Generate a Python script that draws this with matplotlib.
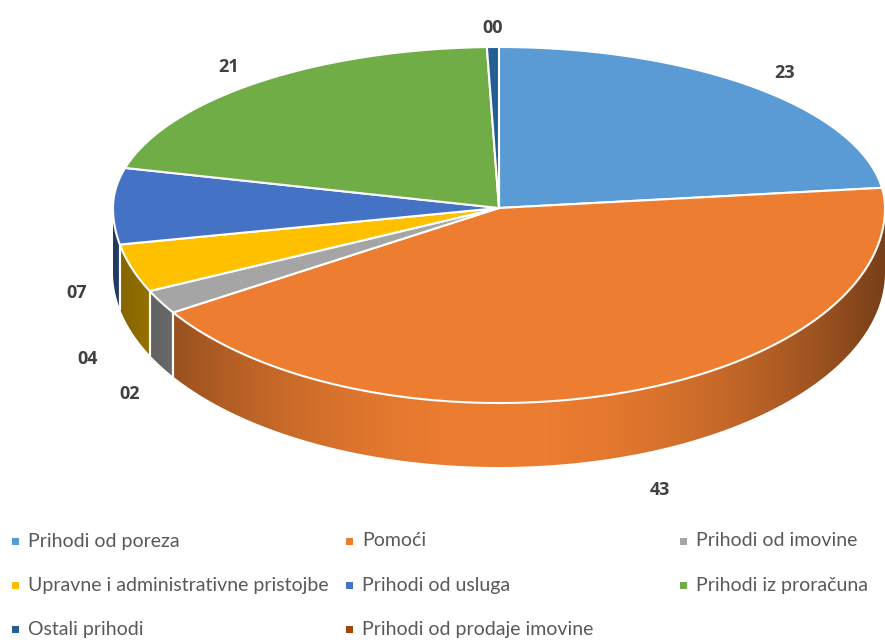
import numpy as np
import matplotlib
matplotlib.use("Agg")
import matplotlib.pyplot as plt
from matplotlib.patches import Polygon, Rectangle
from matplotlib.colors import to_rgb

# data
categories = ["Prihodi od poreza", "Pomoći", "Prihodi od imovine",
              "Upravne i administrativne pristojbe", "Prihodi od usluga",
              "Prihodi iz proračuna", "Ostali prihodi", "Prihodi od prodaje imovine"]
values = [23, 43, 2, 4, 7, 20.5, 0.5, 0]
labels = ["23", "43", "02", "04", "07", "21", "00", "00"]
colors = ["#5B9BD5", "#ED7D31", "#A5A5A5", "#FFC000", "#4472C4",
          "#70AD47", "#255E91", "#9E480E"]

# geometry (pixel space)
W, H = 885, 640
cx, cy = 499, 208
rx, ry_up, ry_dn = 386, 161, 195
depth = 64


def ell(t, k=1.0):
    # t in degrees, clockwise from 12 o'clock
    r = np.radians(t)
    c = np.cos(r)
    ry = np.where(c > 0, ry_up, ry_dn)
    return cx + k * rx * np.sin(r), cy - k * ry * c


def shade(col, x):
    u = (x - cx) / rx
    f = 1 - 0.5 * u ** 2
    return np.clip(np.outer(f, to_rgb(col)), 0, 1)


fig = plt.figure(figsize=(8.85, 6.4), dpi=100)
ax = fig.add_axes([0, 0, 1, 1])

total = sum(values)
bounds = np.concatenate([[0], np.cumsum(values) / total * 360])

# side walls (front half only), gradient clipped to wall shape
for i, col in enumerate(colors):
    a0, a1 = max(bounds[i], 90), min(bounds[i + 1], 270)
    if a1 <= a0:
        continue
    ts = np.linspace(a0, a1, 200)
    xs, ys = ell(ts)
    pts = list(zip(xs, ys)) + list(zip(xs[::-1], ys[::-1] + depth))
    wall = Polygon(pts, closed=True, facecolor="none", edgecolor="none")
    ax.add_patch(wall)
    x0, x1 = xs.min(), xs.max()
    gx = np.linspace(x0, x1, 300)
    img = shade(col, gx)[None, :, :]
    im = ax.imshow(img, extent=(x0 - 1, x1 + 1, ys.max() + depth + 2, ys.min() - 2),
                   aspect="auto", interpolation="bilinear", zorder=1)
    im.set_clip_path(wall)
    # white separator lines on the wall
    for t in (a0, a1):
        if 90 < t < 270:
            x, y = ell(t)
            ax.plot([x, x], [y, y + depth], color="white", lw=1.5, zorder=2)

# top face
for i, col in enumerate(colors):
    a0, a1 = bounds[i], bounds[i + 1]
    if a1 <= a0:
        continue
    ts = np.linspace(a0, a1, max(3, int((a1 - a0) * 2)))
    xs, ys = ell(ts)
    pts = [(cx, cy)] + list(zip(xs, ys))
    ax.add_patch(Polygon(pts, closed=True, facecolor=col, edgecolor="white",
                         lw=1.5, joinstyle="round", zorder=3))

# data labels
nudge = {1: (14, -7), 2: (10, -3), 4: (10, 91)}
for i, lab in enumerate(labels):
    if values[i] == 0:
        continue
    mid = (bounds[i] + bounds[i + 1]) / 2
    x, y = ell(mid, 1.12)
    if 90 < mid < 270:
        y += depth + 20
    dx, dy = nudge.get(i, (0, 0))
    ax.text(x + dx, y + dy, lab, ha="center", va="center", fontsize=13,
            fontweight="bold", color="#404040", family="Open Sans", zorder=4)

# legend
for i, (name, col) in enumerate(zip(categories, colors)):
    row, c = divmod(i, 3)
    lx, ly = 15 + c * 334, 541 + row * 44
    ax.add_patch(Rectangle((lx - 3.5, ly - 3.5), 7, 7, facecolor=col,
                           edgecolor="none", zorder=4))
    ax.text(lx + 13, ly, name, ha="left", va="center", fontsize=14,
            color="#595959", family="Lato", zorder=4)

ax.set_xlim(0, W)
ax.set_ylim(H, 0)
ax.axis("off")
fig.savefig("out.png", dpi=100)
